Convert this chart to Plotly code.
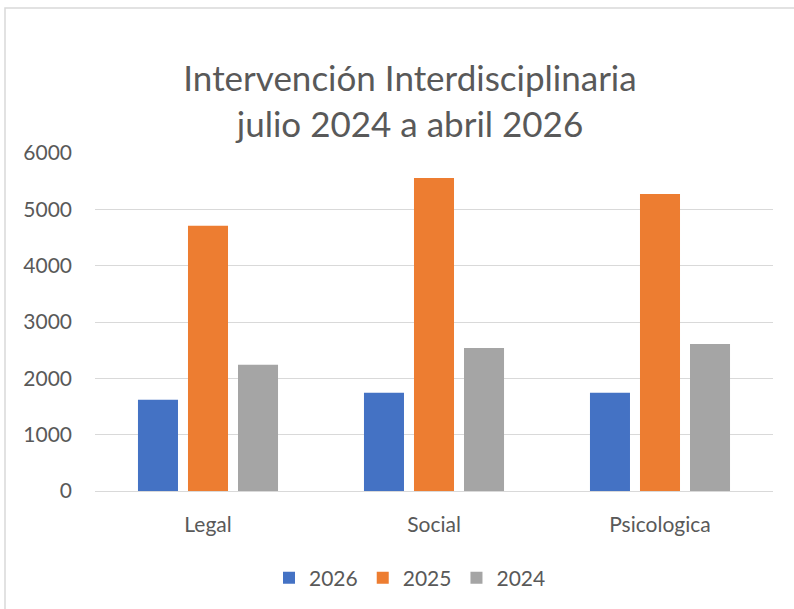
import plotly.graph_objects as go

categories = ["Legal", "Social", "Psicologica"]
series_names = ["2026", "2025", "2024"]
values_2026 = [1620, 1745, 1745]
values_2025 = [4710, 5555, 5270]
values_2024 = [2240, 2540, 2610]
colors = ["#4472C4", "#ED7D31", "#A5A5A5"]
y_ticks = [0, 1000, 2000, 3000, 4000, 5000, 6000]

W, H = 794, 609
L, R, T, B = 95, 21, 153, 117
pw, ph = W - L - R, H - T - B

def px_to_paper_x(px):
    return (px - L) / pw

def px_to_paper_y(py):
    return (H - B - py) / ph

fig = go.Figure()
for name, vals, col in zip(series_names, [values_2026, values_2025, values_2024], colors):
    fig.add_trace(go.Bar(name=name, x=categories, y=vals, marker=dict(color=col, line=dict(width=0))))

font_family = "Lato, Open Sans, sans-serif"
text_color = "#595959"

fig.update_layout(
    width=W, height=H,
    margin=dict(l=L, r=R, t=T, b=B),
    paper_bgcolor="white", plot_bgcolor="white",
    barmode="group", bargap=0.336, bargroupgap=0.2,
    font=dict(family=font_family, color=text_color, size=20),
    title=dict(
        text="Intervención Interdisciplinaria<br>julio 2024 a abril 2026",
        x=px_to_paper_x(410), xref="paper", xanchor="center",
        y=1 - 91 / H, yref="container", yanchor="middle",
        font=dict(family=font_family, size=35, color=text_color),
    ),
    legend=dict(
        orientation="h", x=px_to_paper_x(410), xanchor="center",
        y=px_to_paper_y(578), yanchor="middle",
        font=dict(size=21, color=text_color), traceorder="normal",
        itemwidth=30,
    ),
    xaxis=dict(showgrid=False, showline=False, ticks="", ticklabelstandoff=19,
               tickfont=dict(size=21, color=text_color)),
    yaxis=dict(range=[0, 6000], tickvals=y_ticks, showgrid=True, gridcolor="#D9D9D9",
               gridwidth=1.3, zeroline=True, zerolinecolor="#D9D9D9", zerolinewidth=1.3,
               showline=False, ticks="", ticklabelstandoff=22,
               tickfont=dict(size=21, color=text_color)),
    shapes=[dict(type="rect", xref="paper", yref="paper",
                 x0=px_to_paper_x(5), x1=px_to_paper_x(805),
                 y0=px_to_paper_y(620), y1=px_to_paper_y(7.5),
                 line=dict(color="#D9D9D9", width=1.5), fillcolor="rgba(0,0,0,0)", layer="below")],
)

fig.write_html("out.html", config={"displayModeBar": False},
               post_script="document.body.style.margin='0';")
